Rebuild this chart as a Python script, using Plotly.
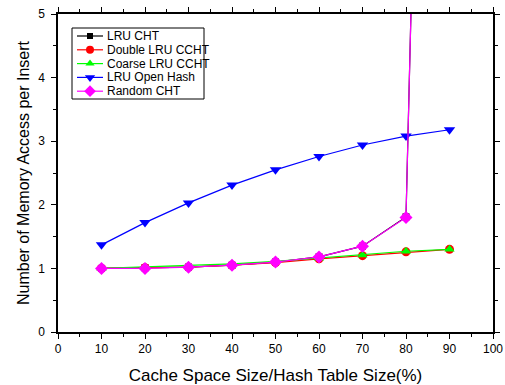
import plotly.graph_objects as go

x = [10, 20, 30, 40, 50, 60, 70, 80, 90]
lru_cht = [1.0, 1.01, 1.02, 1.05, 1.10, 1.18, 1.35, 1.81, 30.0]
double_lru = [1.0, 1.01, 1.02, 1.05, 1.09, 1.15, 1.20, 1.26, 1.30]
coarse_lru = [1.0, 1.02, 1.04, 1.07, 1.11, 1.16, 1.21, 1.27, 1.30]
lru_open = [1.37, 1.72, 2.03, 2.31, 2.55, 2.76, 2.94, 3.08, 3.18]
random_cht = [1.0, 1.0, 1.02, 1.05, 1.10, 1.18, 1.35, 1.80, 30.0]

series_names = ["LRU CHT", "Double LRU CCHT", "Coarse LRU CCHT", "LRU Open Hash", "Random CHT"]
series_vals = [lru_cht, double_lru, coarse_lru, lru_open, random_cht]
colors = ["black", "red", "#00ff00", "blue", "magenta"]
symbols = ["square", "circle", "triangle-up", "triangle-down", "diamond"]
sizes = [7, 9, 9, 10, 10]
legend_sizes = [6, 8, 8, 9, 9]

FONT = "Liberation Sans, Arial"

# plot area in pixels
L, R, T, B = 58, 493, 14, 332
W, H = 505, 385

fig = go.Figure()
for name, vals, col, sym, sz in zip(series_names, series_vals, colors, symbols, sizes):
    fig.add_trace(go.Scatter(
        x=x, y=vals, name=name, mode="lines+markers",
        line=dict(color=col, width=1.2),
        marker=dict(color=col, symbol=sym, size=sz),
        showlegend=False,
    ))

# custom compact legend drawn on a pixel-space overlay axis
leg_x0, leg_x1, leg_y0, leg_y1 = 72, 204, 28, 99
row0, row_step = 36, 13.8
for i, (name, col, sym, sz) in enumerate(zip(series_names, colors, symbols, legend_sizes)):
    ry = row0 + i * row_step
    fig.add_trace(go.Scatter(
        x=[77, 90, 103], y=[ry, ry, ry], xaxis="x2", yaxis="y2",
        mode="lines", line=dict(color=col, width=1.2),
        showlegend=False, hoverinfo="skip", cliponaxis=False,
    ))
    fig.add_trace(go.Scatter(
        x=[90], y=[ry], xaxis="x2", yaxis="y2",
        mode="markers", marker=dict(color=col, symbol=sym, size=sz),
        showlegend=False, hoverinfo="skip", cliponaxis=False,
    ))
    fig.add_annotation(
        x=105, y=ry, xref="x2", yref="y2", text=name, showarrow=False,
        xanchor="left", yanchor="middle",
        font=dict(family=FONT, size=12, color="black"),
    )
fig.add_shape(type="rect", x0=leg_x0, x1=leg_x1, y0=leg_y0, y1=leg_y1,
              xref="x2", yref="y2", line=dict(color="black", width=1),
              fillcolor="rgba(0,0,0,0)", layer="above")

axis_common = dict(
    showline=True, linecolor="black", linewidth=1.5, mirror="ticks",
    ticks="outside", ticklen=5, tickcolor="black", tickwidth=1,
    showgrid=False, zeroline=False, automargin=False,
    tickfont=dict(family=FONT, size=12, color="black"),
)

fig.update_layout(
    xaxis=dict(
        range=[0, 100], tickvals=list(range(0, 101, 10)),
        minor=dict(ticks="outside", ticklen=3, dtick=5, tickcolor="black", showgrid=False),
        title=dict(text="Cache Space Size/Hash Table Size(%)",
                   font=dict(family=FONT, size=17, color="black"), standoff=16),
        **axis_common,
    ),
    yaxis=dict(
        range=[0, 5], tickvals=[0, 1, 2, 3, 4, 5],
        minor=dict(ticks="outside", ticklen=3, dtick=0.5, tickcolor="black", showgrid=False),
        title=dict(text="Number of Memory Access per Insert",
                   font=dict(family=FONT, size=16, color="black"), standoff=5),
        ticklabelstandoff=4,
        **axis_common,
    ),
    xaxis2=dict(range=[L, R], overlaying="x", anchor="y2", visible=False, fixedrange=True),
    yaxis2=dict(range=[B, T], overlaying="y", anchor="x2", visible=False, fixedrange=True),
    width=W, height=H,
    margin=dict(l=L, r=W - R, t=T, b=H - B),
    plot_bgcolor="white", paper_bgcolor="white",
    font=dict(family=FONT),
    showlegend=False,
)

fig.write_html("out.html")
